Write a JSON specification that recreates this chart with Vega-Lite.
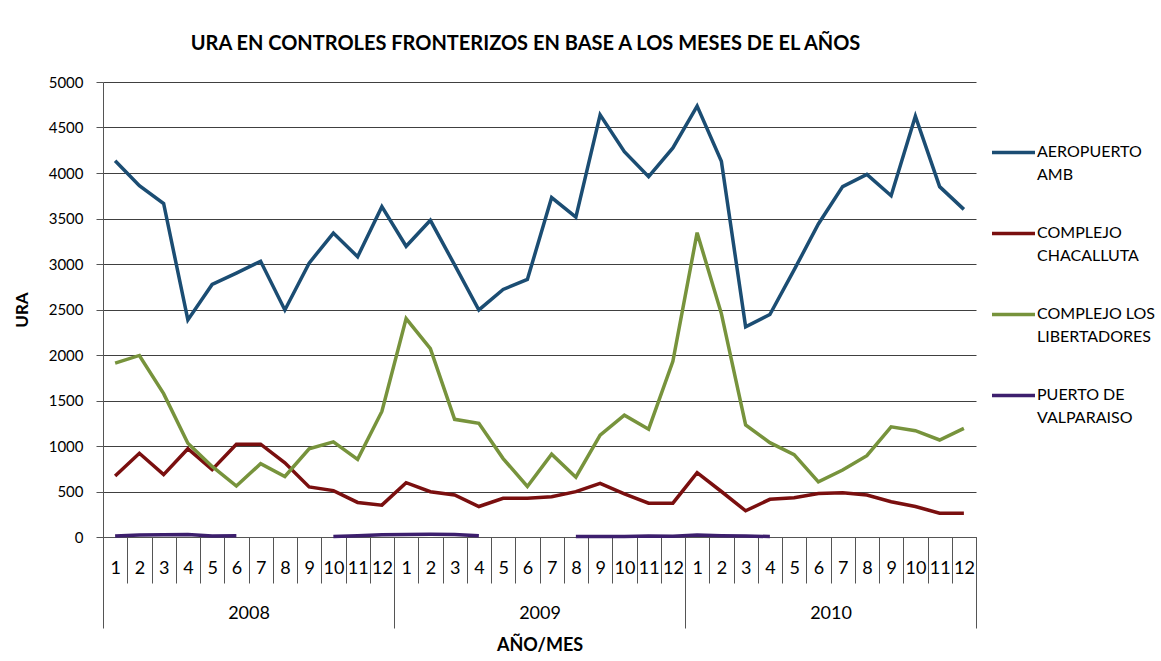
{
  "$schema": "https://vega.github.io/schema/vega-lite/v6.json",
  "autosize": {"type": "none"},
  "padding": {"left": 103, "top": 82, "right": 185, "bottom": 124},
  "width": 873,
  "height": 455,
  "background": "white",
  "config": {"font": "Lato", "view": {"stroke": null}},
  "title": {"text": "URA EN CONTROLES FRONTERIZOS EN BASE A LOS MESES DE EL AÑOS", "fontSize": 20, "fontWeight": "bold", "color": "black", "anchor": "middle", "dx": -14, "offset": 5, "baseline": "alphabetic"},
  "data": {"values": [
    {"ym": "2008-01", "year": "2008", "serie": "AEROPUERTO AMB", "seg": "a", "ura": 4135},
    {"ym": "2008-02", "year": "2008", "serie": "AEROPUERTO AMB", "seg": "a", "ura": 3860},
    {"ym": "2008-03", "year": "2008", "serie": "AEROPUERTO AMB", "seg": "a", "ura": 3665},
    {"ym": "2008-04", "year": "2008", "serie": "AEROPUERTO AMB", "seg": "a", "ura": 2385},
    {"ym": "2008-05", "year": "2008", "serie": "AEROPUERTO AMB", "seg": "a", "ura": 2775},
    {"ym": "2008-06", "year": "2008", "serie": "AEROPUERTO AMB", "seg": "a", "ura": 2900},
    {"ym": "2008-07", "year": "2008", "serie": "AEROPUERTO AMB", "seg": "a", "ura": 3030},
    {"ym": "2008-08", "year": "2008", "serie": "AEROPUERTO AMB", "seg": "a", "ura": 2495},
    {"ym": "2008-09", "year": "2008", "serie": "AEROPUERTO AMB", "seg": "a", "ura": 3010},
    {"ym": "2008-10", "year": "2008", "serie": "AEROPUERTO AMB", "seg": "a", "ura": 3340},
    {"ym": "2008-11", "year": "2008", "serie": "AEROPUERTO AMB", "seg": "a", "ura": 3080},
    {"ym": "2008-12", "year": "2008", "serie": "AEROPUERTO AMB", "seg": "a", "ura": 3630},
    {"ym": "2009-01", "year": "2009", "serie": "AEROPUERTO AMB", "seg": "a", "ura": 3195},
    {"ym": "2009-02", "year": "2009", "serie": "AEROPUERTO AMB", "seg": "a", "ura": 3480},
    {"ym": "2009-03", "year": "2009", "serie": "AEROPUERTO AMB", "seg": "a", "ura": 2990},
    {"ym": "2009-04", "year": "2009", "serie": "AEROPUERTO AMB", "seg": "a", "ura": 2495},
    {"ym": "2009-05", "year": "2009", "serie": "AEROPUERTO AMB", "seg": "a", "ura": 2720},
    {"ym": "2009-06", "year": "2009", "serie": "AEROPUERTO AMB", "seg": "a", "ura": 2830},
    {"ym": "2009-07", "year": "2009", "serie": "AEROPUERTO AMB", "seg": "a", "ura": 3730},
    {"ym": "2009-08", "year": "2009", "serie": "AEROPUERTO AMB", "seg": "a", "ura": 3515},
    {"ym": "2009-09", "year": "2009", "serie": "AEROPUERTO AMB", "seg": "a", "ura": 4640},
    {"ym": "2009-10", "year": "2009", "serie": "AEROPUERTO AMB", "seg": "a", "ura": 4235},
    {"ym": "2009-11", "year": "2009", "serie": "AEROPUERTO AMB", "seg": "a", "ura": 3960},
    {"ym": "2009-12", "year": "2009", "serie": "AEROPUERTO AMB", "seg": "a", "ura": 4275},
    {"ym": "2010-01", "year": "2010", "serie": "AEROPUERTO AMB", "seg": "a", "ura": 4735},
    {"ym": "2010-02", "year": "2010", "serie": "AEROPUERTO AMB", "seg": "a", "ura": 4130},
    {"ym": "2010-03", "year": "2010", "serie": "AEROPUERTO AMB", "seg": "a", "ura": 2310},
    {"ym": "2010-04", "year": "2010", "serie": "AEROPUERTO AMB", "seg": "a", "ura": 2445},
    {"ym": "2010-05", "year": "2010", "serie": "AEROPUERTO AMB", "seg": "a", "ura": 2935},
    {"ym": "2010-06", "year": "2010", "serie": "AEROPUERTO AMB", "seg": "a", "ura": 3440},
    {"ym": "2010-07", "year": "2010", "serie": "AEROPUERTO AMB", "seg": "a", "ura": 3850},
    {"ym": "2010-08", "year": "2010", "serie": "AEROPUERTO AMB", "seg": "a", "ura": 3985},
    {"ym": "2010-09", "year": "2010", "serie": "AEROPUERTO AMB", "seg": "a", "ura": 3750},
    {"ym": "2010-10", "year": "2010", "serie": "AEROPUERTO AMB", "seg": "a", "ura": 4625},
    {"ym": "2010-11", "year": "2010", "serie": "AEROPUERTO AMB", "seg": "a", "ura": 3850},
    {"ym": "2010-12", "year": "2010", "serie": "AEROPUERTO AMB", "seg": "a", "ura": 3600},
    {"ym": "2008-01", "year": "2008", "serie": "COMPLEJO CHACALLUTA", "seg": "a", "ura": 670},
    {"ym": "2008-02", "year": "2008", "serie": "COMPLEJO CHACALLUTA", "seg": "a", "ura": 920},
    {"ym": "2008-03", "year": "2008", "serie": "COMPLEJO CHACALLUTA", "seg": "a", "ura": 685},
    {"ym": "2008-04", "year": "2008", "serie": "COMPLEJO CHACALLUTA", "seg": "a", "ura": 970},
    {"ym": "2008-05", "year": "2008", "serie": "COMPLEJO CHACALLUTA", "seg": "a", "ura": 740},
    {"ym": "2008-06", "year": "2008", "serie": "COMPLEJO CHACALLUTA", "seg": "a", "ura": 1020},
    {"ym": "2008-07", "year": "2008", "serie": "COMPLEJO CHACALLUTA", "seg": "a", "ura": 1020},
    {"ym": "2008-08", "year": "2008", "serie": "COMPLEJO CHACALLUTA", "seg": "a", "ura": 815},
    {"ym": "2008-09", "year": "2008", "serie": "COMPLEJO CHACALLUTA", "seg": "a", "ura": 550},
    {"ym": "2008-10", "year": "2008", "serie": "COMPLEJO CHACALLUTA", "seg": "a", "ura": 510},
    {"ym": "2008-11", "year": "2008", "serie": "COMPLEJO CHACALLUTA", "seg": "a", "ura": 380},
    {"ym": "2008-12", "year": "2008", "serie": "COMPLEJO CHACALLUTA", "seg": "a", "ura": 350},
    {"ym": "2009-01", "year": "2009", "serie": "COMPLEJO CHACALLUTA", "seg": "a", "ura": 597},
    {"ym": "2009-02", "year": "2009", "serie": "COMPLEJO CHACALLUTA", "seg": "a", "ura": 498},
    {"ym": "2009-03", "year": "2009", "serie": "COMPLEJO CHACALLUTA", "seg": "a", "ura": 462},
    {"ym": "2009-04", "year": "2009", "serie": "COMPLEJO CHACALLUTA", "seg": "a", "ura": 335},
    {"ym": "2009-05", "year": "2009", "serie": "COMPLEJO CHACALLUTA", "seg": "a", "ura": 425},
    {"ym": "2009-06", "year": "2009", "serie": "COMPLEJO CHACALLUTA", "seg": "a", "ura": 425},
    {"ym": "2009-07", "year": "2009", "serie": "COMPLEJO CHACALLUTA", "seg": "a", "ura": 443},
    {"ym": "2009-08", "year": "2009", "serie": "COMPLEJO CHACALLUTA", "seg": "a", "ura": 498},
    {"ym": "2009-09", "year": "2009", "serie": "COMPLEJO CHACALLUTA", "seg": "a", "ura": 590},
    {"ym": "2009-10", "year": "2009", "serie": "COMPLEJO CHACALLUTA", "seg": "a", "ura": 473},
    {"ym": "2009-11", "year": "2009", "serie": "COMPLEJO CHACALLUTA", "seg": "a", "ura": 372},
    {"ym": "2009-12", "year": "2009", "serie": "COMPLEJO CHACALLUTA", "seg": "a", "ura": 372},
    {"ym": "2010-01", "year": "2010", "serie": "COMPLEJO CHACALLUTA", "seg": "a", "ura": 707},
    {"ym": "2010-02", "year": "2010", "serie": "COMPLEJO CHACALLUTA", "seg": "a", "ura": 500},
    {"ym": "2010-03", "year": "2010", "serie": "COMPLEJO CHACALLUTA", "seg": "a", "ura": 288},
    {"ym": "2010-04", "year": "2010", "serie": "COMPLEJO CHACALLUTA", "seg": "a", "ura": 414},
    {"ym": "2010-05", "year": "2010", "serie": "COMPLEJO CHACALLUTA", "seg": "a", "ura": 432},
    {"ym": "2010-06", "year": "2010", "serie": "COMPLEJO CHACALLUTA", "seg": "a", "ura": 478},
    {"ym": "2010-07", "year": "2010", "serie": "COMPLEJO CHACALLUTA", "seg": "a", "ura": 487},
    {"ym": "2010-08", "year": "2010", "serie": "COMPLEJO CHACALLUTA", "seg": "a", "ura": 462},
    {"ym": "2010-09", "year": "2010", "serie": "COMPLEJO CHACALLUTA", "seg": "a", "ura": 388},
    {"ym": "2010-10", "year": "2010", "serie": "COMPLEJO CHACALLUTA", "seg": "a", "ura": 335},
    {"ym": "2010-11", "year": "2010", "serie": "COMPLEJO CHACALLUTA", "seg": "a", "ura": 262},
    {"ym": "2010-12", "year": "2010", "serie": "COMPLEJO CHACALLUTA", "seg": "a", "ura": 262},
    {"ym": "2008-01", "year": "2008", "serie": "COMPLEJO LOS LIBERTADORES", "seg": "a", "ura": 1910},
    {"ym": "2008-02", "year": "2008", "serie": "COMPLEJO LOS LIBERTADORES", "seg": "a", "ura": 1995},
    {"ym": "2008-03", "year": "2008", "serie": "COMPLEJO LOS LIBERTADORES", "seg": "a", "ura": 1575},
    {"ym": "2008-04", "year": "2008", "serie": "COMPLEJO LOS LIBERTADORES", "seg": "a", "ura": 1030},
    {"ym": "2008-05", "year": "2008", "serie": "COMPLEJO LOS LIBERTADORES", "seg": "a", "ura": 775},
    {"ym": "2008-06", "year": "2008", "serie": "COMPLEJO LOS LIBERTADORES", "seg": "a", "ura": 560},
    {"ym": "2008-07", "year": "2008", "serie": "COMPLEJO LOS LIBERTADORES", "seg": "a", "ura": 805},
    {"ym": "2008-08", "year": "2008", "serie": "COMPLEJO LOS LIBERTADORES", "seg": "a", "ura": 665},
    {"ym": "2008-09", "year": "2008", "serie": "COMPLEJO LOS LIBERTADORES", "seg": "a", "ura": 970},
    {"ym": "2008-10", "year": "2008", "serie": "COMPLEJO LOS LIBERTADORES", "seg": "a", "ura": 1045},
    {"ym": "2008-11", "year": "2008", "serie": "COMPLEJO LOS LIBERTADORES", "seg": "a", "ura": 853},
    {"ym": "2008-12", "year": "2008", "serie": "COMPLEJO LOS LIBERTADORES", "seg": "a", "ura": 1380},
    {"ym": "2009-01", "year": "2009", "serie": "COMPLEJO LOS LIBERTADORES", "seg": "a", "ura": 2400},
    {"ym": "2009-02", "year": "2009", "serie": "COMPLEJO LOS LIBERTADORES", "seg": "a", "ura": 2070},
    {"ym": "2009-03", "year": "2009", "serie": "COMPLEJO LOS LIBERTADORES", "seg": "a", "ura": 1293},
    {"ym": "2009-04", "year": "2009", "serie": "COMPLEJO LOS LIBERTADORES", "seg": "a", "ura": 1250},
    {"ym": "2009-05", "year": "2009", "serie": "COMPLEJO LOS LIBERTADORES", "seg": "a", "ura": 862},
    {"ym": "2009-06", "year": "2009", "serie": "COMPLEJO LOS LIBERTADORES", "seg": "a", "ura": 555},
    {"ym": "2009-07", "year": "2009", "serie": "COMPLEJO LOS LIBERTADORES", "seg": "a", "ura": 910},
    {"ym": "2009-08", "year": "2009", "serie": "COMPLEJO LOS LIBERTADORES", "seg": "a", "ura": 657},
    {"ym": "2009-09", "year": "2009", "serie": "COMPLEJO LOS LIBERTADORES", "seg": "a", "ura": 1120},
    {"ym": "2009-10", "year": "2009", "serie": "COMPLEJO LOS LIBERTADORES", "seg": "a", "ura": 1338},
    {"ym": "2009-11", "year": "2009", "serie": "COMPLEJO LOS LIBERTADORES", "seg": "a", "ura": 1185},
    {"ym": "2009-12", "year": "2009", "serie": "COMPLEJO LOS LIBERTADORES", "seg": "a", "ura": 1930},
    {"ym": "2010-01", "year": "2010", "serie": "COMPLEJO LOS LIBERTADORES", "seg": "a", "ura": 3344},
    {"ym": "2010-02", "year": "2010", "serie": "COMPLEJO LOS LIBERTADORES", "seg": "a", "ura": 2455},
    {"ym": "2010-03", "year": "2010", "serie": "COMPLEJO LOS LIBERTADORES", "seg": "a", "ura": 1231},
    {"ym": "2010-04", "year": "2010", "serie": "COMPLEJO LOS LIBERTADORES", "seg": "a", "ura": 1037},
    {"ym": "2010-05", "year": "2010", "serie": "COMPLEJO LOS LIBERTADORES", "seg": "a", "ura": 905},
    {"ym": "2010-06", "year": "2010", "serie": "COMPLEJO LOS LIBERTADORES", "seg": "a", "ura": 606},
    {"ym": "2010-07", "year": "2010", "serie": "COMPLEJO LOS LIBERTADORES", "seg": "a", "ura": 736},
    {"ym": "2010-08", "year": "2010", "serie": "COMPLEJO LOS LIBERTADORES", "seg": "a", "ura": 893},
    {"ym": "2010-09", "year": "2010", "serie": "COMPLEJO LOS LIBERTADORES", "seg": "a", "ura": 1210},
    {"ym": "2010-10", "year": "2010", "serie": "COMPLEJO LOS LIBERTADORES", "seg": "a", "ura": 1168},
    {"ym": "2010-11", "year": "2010", "serie": "COMPLEJO LOS LIBERTADORES", "seg": "a", "ura": 1066},
    {"ym": "2010-12", "year": "2010", "serie": "COMPLEJO LOS LIBERTADORES", "seg": "a", "ura": 1194},
    {"ym": "2008-01", "year": "2008", "serie": "PUERTO DE VALPARAISO", "seg": "a", "ura": 10},
    {"ym": "2008-02", "year": "2008", "serie": "PUERTO DE VALPARAISO", "seg": "a", "ura": 22},
    {"ym": "2008-03", "year": "2008", "serie": "PUERTO DE VALPARAISO", "seg": "a", "ura": 25},
    {"ym": "2008-04", "year": "2008", "serie": "PUERTO DE VALPARAISO", "seg": "a", "ura": 28},
    {"ym": "2008-05", "year": "2008", "serie": "PUERTO DE VALPARAISO", "seg": "a", "ura": 12},
    {"ym": "2008-06", "year": "2008", "serie": "PUERTO DE VALPARAISO", "seg": "a", "ura": 15},
    {"ym": "2008-10", "year": "2008", "serie": "PUERTO DE VALPARAISO", "seg": "b", "ura": 5},
    {"ym": "2008-11", "year": "2008", "serie": "PUERTO DE VALPARAISO", "seg": "b", "ura": 15},
    {"ym": "2008-12", "year": "2008", "serie": "PUERTO DE VALPARAISO", "seg": "b", "ura": 25},
    {"ym": "2009-01", "year": "2009", "serie": "PUERTO DE VALPARAISO", "seg": "b", "ura": 28},
    {"ym": "2009-02", "year": "2009", "serie": "PUERTO DE VALPARAISO", "seg": "b", "ura": 30},
    {"ym": "2009-03", "year": "2009", "serie": "PUERTO DE VALPARAISO", "seg": "b", "ura": 28},
    {"ym": "2009-04", "year": "2009", "serie": "PUERTO DE VALPARAISO", "seg": "b", "ura": 15},
    {"ym": "2009-08", "year": "2009", "serie": "PUERTO DE VALPARAISO", "seg": "c", "ura": 5},
    {"ym": "2009-09", "year": "2009", "serie": "PUERTO DE VALPARAISO", "seg": "c", "ura": 5},
    {"ym": "2009-10", "year": "2009", "serie": "PUERTO DE VALPARAISO", "seg": "c", "ura": 5},
    {"ym": "2009-11", "year": "2009", "serie": "PUERTO DE VALPARAISO", "seg": "c", "ura": 10},
    {"ym": "2009-12", "year": "2009", "serie": "PUERTO DE VALPARAISO", "seg": "c", "ura": 8},
    {"ym": "2010-01", "year": "2010", "serie": "PUERTO DE VALPARAISO", "seg": "c", "ura": 22},
    {"ym": "2010-02", "year": "2010", "serie": "PUERTO DE VALPARAISO", "seg": "c", "ura": 15},
    {"ym": "2010-03", "year": "2010", "serie": "PUERTO DE VALPARAISO", "seg": "c", "ura": 12},
    {"ym": "2010-04", "year": "2010", "serie": "PUERTO DE VALPARAISO", "seg": "c", "ura": 5}
  ]},
  "layer": [
    {
      "mark": {"type": "line", "strokeWidth": 3.5},
      "encoding": {
        "x": {
          "field": "ym", "type": "ordinal", "bandPosition": 0.5,
          "scale": {"type": "band", "paddingInner": 0, "paddingOuter": 0},
          "axis": {"orient": "bottom", "title": null, "labelExpr": "isString(datum.value) && length(datum.value) == 7 ? toString(parseInt(substring(datum.value, 5))) : ''", "labelAngle": 0, "tickBand": "extent", "tickSize": 46, "tickColor": "#555555", "domainColor": "#555555", "labelPadding": -15, "labelBaseline": "middle", "labelFontSize": 18, "labelColor": "black", "labelOverlap": false, "labelFlush": false, "labelBound": false}
        },
        "y": {
          "field": "ura", "type": "quantitative",
          "scale": {"domain": [0, 5000], "nice": false},
          "axis": {"title": "URA", "values": [0, 500, 1000, 1500, 2000, 2500, 3000, 3500, 4000, 4500, 5000], "format": "d", "labelFontSize": 15, "labelColor": "black", "labelPadding": 13, "tickSize": 7, "tickColor": "#555555", "domainColor": "#555555", "gridColor": "#404040", "gridOpacity": 1, "titleFontSize": 17, "titleFontWeight": "bold", "titleColor": "black", "titleX": -81, "titleY": 227.5, "titleAngle": -90, "titleAlign": "center", "titleBaseline": "middle"}
        },
        "color": {
          "field": "serie", "type": "nominal",
          "scale": {"domain": ["AEROPUERTO AMB", "COMPLEJO CHACALLUTA", "COMPLEJO LOS LIBERTADORES", "PUERTO DE VALPARAISO"], "range": ["#1B4D73", "#7A0F0F", "#77933C", "#3D1F6E"]},
          "legend": {"orient": "none", "legendX": 887, "legendY": 47, "title": null, "symbolType": "stroke", "symbolSize": 1849, "symbolStrokeWidth": 3.5, "labelFontSize": 16, "labelColor": "black", "labelOffset": 0, "labelBaseline": "top", "rowPadding": 27, "labelLimit": 200,
            "labelExpr": "datum.label == 'AEROPUERTO AMB' ? ['AEROPUERTO','AMB'] : datum.label == 'COMPLEJO CHACALLUTA' ? ['COMPLEJO','CHACALLUTA'] : datum.label == 'COMPLEJO LOS LIBERTADORES' ? ['COMPLEJO LOS','LIBERTADORES'] : ['PUERTO DE','VALPARAISO']",
            "encode": {"labels": {"update": {"lineHeight": {"value": 23}, "dy": {"value": -9}}}}}
        },
        "detail": {"field": "seg"}
      }
    },
    {
      "mark": {"type": "rule", "strokeOpacity": 0},
      "encoding": {
        "x": {
          "field": "year", "type": "ordinal",
          "scale": {"type": "band", "paddingInner": 0, "paddingOuter": 0},
          "axis": {"orient": "bottom", "title": "AÑO/MES", "labelAngle": 0, "tickBand": "extent", "tickSize": 91, "tickColor": "#555555", "domain": false, "labelPadding": -15, "labelBaseline": "middle", "labelFontSize": 18, "labelColor": "black", "titleFontSize": 18, "titleFontWeight": "bold", "titleColor": "black", "titleY": 108, "titleBaseline": "middle"}
        }
      }
    }
  ],
  "resolve": {"scale": {"x": "independent"}}
}
